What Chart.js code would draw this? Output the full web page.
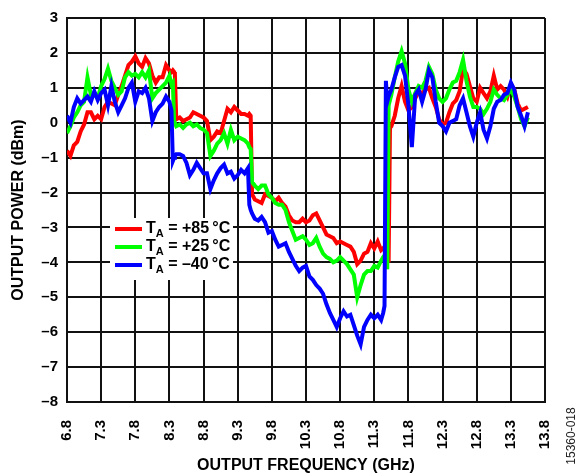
<!DOCTYPE html>
<html>
<head>
<meta charset="utf-8">
<script src="https://cdn.jsdelivr.net/npm/chart.js@4.4.1/dist/chart.umd.min.js"></script>
<style>
  html, body { margin: 0; padding: 0; background: #fff; }
</style>
</head>
<body>
<canvas id="powerChart" width="581" height="476"></canvas>
<script>
// values: frequency in GHz, power in dBm
const freqGHz = [
  6.80, 6.85, 6.90, 6.95, 7.00, 7.05, 7.10, 7.15, 7.20, 7.25,
  7.30, 7.35, 7.40, 7.45, 7.50, 7.55, 7.60, 7.65, 7.70, 7.75,
  7.80, 7.85, 7.90, 7.95, 8.00, 8.05, 8.10, 8.15, 8.20, 8.25,
  8.30,
  8.33, 8.35, 8.37, 8.38, 8.40,
  8.45, 8.50, 8.55, 8.60, 8.65, 8.70, 8.75, 8.80, 8.85, 8.90,
  8.95, 9.00, 9.05, 9.10, 9.15, 9.20, 9.25, 9.30, 9.35, 9.40,
  9.45,
  9.47, 9.49, 9.51,
  9.55, 9.60, 9.65, 9.70, 9.75, 9.80, 9.85, 9.90, 9.95, 10.00,
  10.05, 10.10, 10.15, 10.20, 10.25, 10.30, 10.35, 10.40, 10.45, 10.50,
  10.55, 10.60, 10.65, 10.70, 10.75, 10.80, 10.85, 10.90, 10.95, 11.00,
  11.05, 11.10, 11.15, 11.20, 11.25, 11.30, 11.35, 11.40,
  11.43, 11.45, 11.47, 11.49, 11.51, 11.53, 11.55,
  11.60, 11.65, 11.70, 11.75, 11.80, 11.85, 11.90, 11.95, 12.00, 12.05,
  12.10, 12.15, 12.20, 12.25, 12.30, 12.35, 12.40, 12.45, 12.50, 12.55,
  12.60, 12.65, 12.70, 12.75, 12.80, 12.85, 12.90, 12.95, 13.00, 13.05,
  13.10, 13.15, 13.20, 13.25, 13.30, 13.35, 13.40, 13.45, 13.50, 13.55
];

// TA = +85°C
const powerPlus85 = [
  -0.8, -0.95, -0.65, -0.55, -0.25, -0.05, 0.3, 0.3, 0.1, 0.2,
  0.1, 0.45, 0.6, 0.55, 0.5, 0.8, 1.05, 1.35, 1.65, 1.75,
  1.9, 1.7, 1.6, 1.85, 1.7, 1.35, 1.15, 1.3, 1.3, 1.65,
  1.5,
  1.45, 1.5, 1.45, 1.4, 0.1,
  0.15, 0.05, 0.1, 0.15, 0.3, 0.25, 0.2, 0.15, 0.05, -0.5,
  -0.4, -0.25, -0.3, 0.05, 0.4, 0.3, 0.45, 0.35, 0.25, 0.25,
  0.2,
  0.25, 0.2, -2.05,
  -2.2, -2.25, -2.3, -2.05, -2.1, -2.15, -2.25, -2.15, -2.3, -2.4,
  -2.65, -2.8, -2.85, -2.85, -2.75, -2.85, -2.8, -2.65, -2.6, -2.8,
  -3.0, -3.2, -3.25, -3.3, -3.45, -3.4, -3.45, -3.5, -3.55, -3.7,
  -4.05, -3.95, -3.75, -3.7, -3.45, -3.6, -3.4, -3.65,
  -3.6, -3.55, -3.65, -3.75, -4.0, -0.15, -0.1,
  0.2, 0.7, 1.05, 0.6, 0.35, 0.45, 0.7, 0.9, 0.85, 0.95,
  1.0, 0.7, 0.45, 0.1, -0.05, 0.0, 0.3, 0.55, 0.65, 0.9,
  1.55, 1.4, 1.05, 0.7, 0.6, 1.0, 0.85, 0.7, 0.9, 1.35,
  0.95, 1.05, 0.95, 0.75, 1.1, 0.95, 0.55, 0.35, 0.4, 0.45
];

// TA = +25°C
const powerPlus25 = [
  -0.3, -0.1, 0.15, 0.3, 0.5, 0.6, 1.3, 0.8, 0.85, 0.7,
  1.05, 1.25, 1.55, 1.2, 1.0, 0.8, 0.9, 1.3, 1.45, 1.35,
  1.4, 1.3, 1.45, 1.3, 1.5, 0.7, 0.85, 0.95, 1.05, 1.15,
  1.35,
  1.1, 1.15, -0.05, 0.0, -0.1,
  -0.05, -0.15, -0.05, 0.0, -0.1, -0.05, -0.15, -0.2, -0.3, -0.95,
  -0.8, -0.6, -0.5, -0.3, -0.6, -0.2, -0.5, -0.4, -0.45, -0.5,
  -0.6,
  -0.7, -0.75, -1.7,
  -1.8, -1.9, -1.8, -1.8, -2.05, -2.15, -2.3, -2.35, -2.35, -2.5,
  -2.85, -3.1, -3.35, -3.3, -3.25, -3.35, -3.5, -3.45, -3.3, -3.55,
  -3.75, -3.85, -3.9, -4.0, -3.95, -3.85, -3.95, -4.05, -4.2, -4.35,
  -5.0, -4.65, -4.35, -4.25, -4.25, -4.1, -4.15, -3.95,
  -3.85, -3.8, -3.75, -4.2, 0.5, 0.65, 0.8,
  1.3, 1.75, 2.05, 1.7, 0.95, 0.6, 0.85, 1.05, 1.0, 1.2,
  1.6, 1.4, 0.95, 0.7, 0.6, 0.7, 0.95, 1.15, 1.2, 1.45,
  1.8, 1.2, 0.75, 0.45, 0.45, 0.4, 0.25, 0.4, 0.6, 0.95,
  0.8, 0.7, 0.65, 0.8, 0.95, 0.75, 0.45, 0.1, -0.1, 0.15
];

// TA = -40°C
const powerMinus40 = [
  0.2, 0.0, 0.45, 0.7, 0.55, 0.65, 0.75, 0.6, 0.9, 0.65,
  0.85, 0.95, 0.5, 1.05, 0.6, 0.3, 0.5, 0.7, 1.0, 1.15,
  0.6, 0.9, 0.85, 1.0, 0.7, 0.05, 0.3, 0.45, 0.55, 0.75,
  0.6,
  0.35, -1.1, -1.0, -0.95, -0.9,
  -0.9, -0.95, -1.15, -1.5, -1.35, -1.15, -1.3, -1.45, -1.45, -1.9,
  -1.65, -1.45, -1.3, -1.2, -1.45, -1.4, -1.6, -1.5, -1.35, -1.45,
  -1.3,
  -2.35, -2.5, -2.6,
  -2.75, -2.8, -2.7, -2.85, -3.15, -3.1, -3.35, -3.55, -3.5, -3.45,
  -3.7, -3.9, -4.1, -4.25, -4.15, -4.1, -4.4, -4.5, -4.65, -4.75,
  -4.9, -5.2, -5.45, -5.65, -5.85, -5.6, -5.4, -5.55, -5.5, -5.8,
  -6.1, -6.35, -5.85, -5.65, -5.5, -5.6, -5.5, -5.65,
  -5.45, -5.25, 1.2, 0.6, 0.75, 0.85, 0.95,
  1.3, 1.6, 1.65, 1.35, 0.5, -0.7, 0.8, 0.95, 0.6, 0.95,
  1.5, 1.3, 0.6, 0.0, -0.1, -0.25, 0.0, 0.05, 0.1, 0.5,
  0.7, 0.3, -0.1, -0.4, 0.0, 0.3, -0.2, -0.45, -0.1, 0.4,
  0.6, 0.65, 0.8, 0.85, 1.15, 0.95, 0.45, 0.2, -0.1, 0.3
];

const xTicks = [6.8, 7.3, 7.8, 8.3, 8.8, 9.3, 9.8, 10.3, 10.8, 11.3, 11.8, 12.3, 12.8, 13.3, 13.8];
const yTicks = [3, 2, 1, 0, -1, -2, -3, -4, -5, -6, -7, -8];
const seriesTemps = ["+85", "+25", "\u201340"];

const FONT = "'Liberation Sans', Arial, Helvetica, sans-serif";
const GRID = "#111";

function toPoints(values) {
	return freqGHz.map((f, i) => ({ x: f, y: values[i] }));
}

function dash(v) {
	return String(v).replace("-", "\u2013");
}

// legend sits inside the plot on a white box, T with subscript A
const inPlotLegend = {
	id: "inPlotLegend",
	afterDatasetsDraw(chart) {
		const c = chart.ctx;
		const area = chart.chartArea;
		const left = area.left + 43;
		const top = area.top + 200;
		c.save();
		c.fillStyle = "#fff";
		c.fillRect(left, top, 123, 62);
		chart.data.datasets.forEach((ds, i) => {
			const y = top + 11 + i * 18;
			c.strokeStyle = ds.borderColor;
			c.lineWidth = 4;
			c.beginPath();
			c.moveTo(left + 5, y);
			c.lineTo(left + 32, y);
			c.stroke();

			c.fillStyle = "#000";
			c.textBaseline = "middle";
			c.textAlign = "left";
			let x = left + 36;
			c.font = "bold 16px " + FONT;
			c.fillText("T", x, y);
			x += c.measureText("T").width;
			c.font = "bold 11px " + FONT;
			c.fillText("A", x, y + 5);
			x += c.measureText("A").width;
			c.font = "bold 16px " + FONT;
			c.fillText(" = " + seriesTemps[i] + "\u2009\u00b0C", x, y);
		});
		c.restore();
	},
};

// figure number at the bottom right corner
const figureCode = {
	id: "figureCode",
	afterDraw(chart) {
		const c = chart.ctx;
		c.save();
		c.translate(572, 436);
		c.rotate(-Math.PI / 2);
		c.fillStyle = "#222";
		c.font = "12px " + FONT;
		c.textAlign = "center";
		c.textBaseline = "middle";
		c.fillText("15360-018", 0, 0);
		c.restore();
	},
};

const ctx = document.getElementById("powerChart").getContext("2d");
const powerChart = new Chart(ctx, {
	type: "line",
	data: {
		datasets: [
			{
				label: "+85",
				data: toPoints(powerPlus85),
				borderColor: "#ff0000",
				borderWidth: 4,
				pointRadius: 0,
				tension: 0,
				order: 3,
			},
			{
				label: "+25",
				data: toPoints(powerPlus25),
				borderColor: "#00ff00",
				borderWidth: 4,
				pointRadius: 0,
				tension: 0,
				order: 2,
			},
			{
				label: "-40",
				data: toPoints(powerMinus40),
				borderColor: "#0000ff",
				borderWidth: 4,
				pointRadius: 0,
				tension: 0,
				order: 1,
			},
		],
	},
	options: {
		responsive: false,
		animation: false,
		devicePixelRatio: 1,
		layout: { padding: { top: 15, right: 29, left: 0, bottom: 0 } },
		plugins: {
			legend: { display: false },
			tooltip: { enabled: false },
		},
		scales: {
			x: {
				type: "linear",
				min: 6.8,
				max: 13.8,
				afterBuildTicks: (axis) => {
					axis.ticks = xTicks.map((v) => ({ value: v }));
				},
				afterFit: (axis) => {
					axis.height = 74;
				},
				grid: { color: GRID, lineWidth: 2, drawTicks: false },
				border: { color: GRID, width: 2 },
				ticks: {
					autoSkip: false,
					minRotation: 90,
					maxRotation: 90,
					padding: 18,
					color: "#000",
					font: { family: FONT, size: 15, weight: "bold" },
					callback: (v) => Number(v).toFixed(1),
				},
				title: {
					display: true,
					text: "OUTPUT FREQUENCY (GHz)",
					color: "#000",
					font: { family: FONT, size: 16, weight: "bold" },
					padding: { top: 0, bottom: 1 },
				},
			},
			y: {
				min: -8,
				max: 3,
				afterBuildTicks: (axis) => {
					axis.ticks = yTicks.map((v) => ({ value: v }));
				},
				afterFit: (axis) => {
					axis.width = 67;
				},
				grid: { color: GRID, lineWidth: 2, drawTicks: false },
				border: { color: GRID, width: 2 },
				ticks: {
					padding: 9,
					color: "#000",
					font: { family: FONT, size: 15, weight: "bold" },
					callback: (v) => dash(v),
				},
				title: {
					display: true,
					text: "OUTPUT POWER (dBm)",
					color: "#000",
					font: { family: FONT, size: 16, weight: "bold" },
					padding: { top: 9, bottom: 0 },
				},
			},
		},
	},
	plugins: [inPlotLegend, figureCode],
});
</script>
</body>
</html>
